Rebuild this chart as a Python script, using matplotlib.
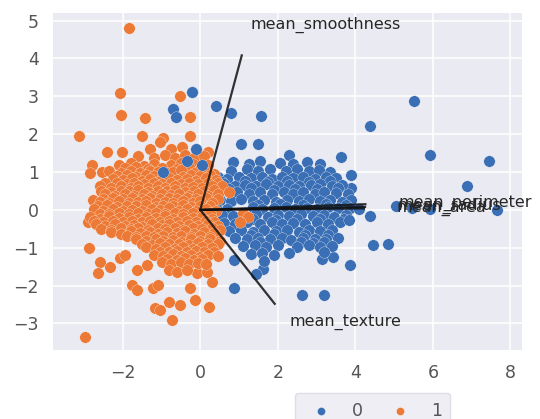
import matplotlib
matplotlib.use("Agg")
import matplotlib.pyplot as plt
import numpy as np

# ---------------- data ----------------
classes = ["0", "1"]
feature_names = ["mean_radius", "mean_texture", "mean_perimeter", "mean_area", "mean_smoothness"]
loading_x = [4.25, 1.92, 4.26, 4.22, 1.07]
loading_y = [0.08, -2.48, 0.15, 0.04, 4.08]

xticks = [-2, 0, 2, 4, 6, 8]
yticks = [-3, -2, -1, 0, 1, 2, 3, 4, 5]

# class 0 (blue)
malignant_pts = [
    (-0.22, 3.12), (-0.70, 2.67), (-0.62, 2.45), (0.40, 2.74), (0.78, 2.55), (1.57, 2.48),
    (1.05, 1.73), (1.50, 1.73), (5.52, 2.87), (4.39, 2.22), (5.92, 1.45), (7.44, 1.30),
    (3.63, 1.41), (6.88, 0.63), (7.65, -0.01), (5.92, 0.03), (5.05, 0.10), (5.45, 0.05),
    (4.39, -0.15), (4.45, -0.94), (4.84, -0.89), (3.87, -1.46), (3.15, -1.30), (3.43, -1.25),
    (2.62, -2.26), (3.18, -2.26), (0.88, -2.07), (1.62, -1.55), (1.45, -1.68), (3.90, 0.93),
    (3.90, 0.57), (2.28, 1.46), (-0.95, 1.01), (-0.34, 1.28), (0.05, 1.18), (-0.10, 1.60),
    (0.86, -1.32),
    (0.85, 1.27), (1.25, 1.22), (1.55, 1.28), (2.05, 1.24), (2.40, 1.20), (2.75, 1.26), (3.10, 1.21),
    (0.80, 1.03), (1.20, 1.08), (1.50, 1.02), (1.80, 1.07), (2.20, 1.04), (2.50, 1.09), (2.80, 1.02),
    (3.05, 1.06), (3.35, 1.01),
    (0.45, 0.87), (0.70, 0.82), (1.00, 0.88), (1.30, 0.83), (1.60, 0.86), (1.85, 0.81), (2.10, 0.88),
    (2.40, 0.84), (2.65, 0.87), (2.95, 0.82), (3.25, 0.86), (3.50, 0.83),
    (0.55, 0.74), (1.15, 0.77), (1.75, 0.73), (2.25, 0.76), (2.80, 0.74), (3.35, 0.77),
    (0.30, 0.66), (0.60, 0.68), (0.90, 0.63), (1.15, 0.67), (1.45, 0.62), (1.70, 0.68), (2.00, 0.64),
    (2.30, 0.67), (2.55, 0.62), (2.85, 0.66), (3.10, 0.69), (3.40, 0.63), (3.65, 0.67),
    (0.75, 0.54), (1.30, 0.57), (1.90, 0.53), (2.45, 0.56), (3.00, 0.54), (3.55, 0.57),
    (0.35, 0.44), (0.95, 0.47), (1.25, 0.42), (1.55, 0.46), (1.85, 0.43), (2.15, 0.48), (2.40, 0.43),
    (2.65, 0.46), (2.95, 0.42), (3.20, 0.47), (3.50, 0.44), (3.80, 0.41),
    (0.50, 0.26), (0.80, 0.23), (1.05, 0.28), (1.35, 0.24), (1.65, 0.27), (1.95, 0.22), (2.25, 0.26),
    (2.55, 0.23), (2.80, 0.28), (3.10, 0.24), (3.35, 0.27), (3.65, 0.22), (3.90, 0.25),
    (1.50, 0.14), (2.05, 0.16), (2.65, 0.13), (3.25, 0.15), (3.75, 0.14),
    (0.40, 0.06), (0.70, 0.03), (1.35, 0.07), (1.60, 0.02), (1.90, 0.05), (2.20, 0.08), (2.45, 0.03),
    (2.75, 0.06), (3.00, 0.02), (3.30, 0.07), (3.55, 0.04), (3.85, 0.06), (4.10, 0.03),
    (0.55, -0.13), (0.85, -0.17), (1.45, -0.12), (1.75, -0.18), (2.00, -0.14), (2.30, -0.17),
    (2.60, -0.12), (2.90, -0.16), (3.20, -0.13), (3.45, -0.18), (3.75, -0.14),
    (1.35, -0.24), (1.95, -0.26), (2.50, -0.23), (3.10, -0.25), (3.70, -0.24),
    (0.60, -0.34), (0.90, -0.38), (1.20, -0.33), (1.55, -0.37), (1.85, -0.32), (2.10, -0.38),
    (2.40, -0.34), (2.70, -0.37), (3.00, -0.33), (3.30, -0.36), (3.60, -0.32), (3.83, -0.27),
    (0.75, -0.57), (1.05, -0.53), (1.35, -0.58), (1.65, -0.54), (1.95, -0.57), (2.25, -0.52),
    (2.55, -0.58), (2.80, -0.54), (3.10, -0.57), (3.40, -0.53),
    (1.30, -0.66), (1.90, -0.64), (2.70, -0.67), (3.30, -0.65),
    (0.90, -0.74), (1.20, -0.78), (1.50, -0.73), (1.80, -0.77), (2.10, -0.74), (2.35, -0.79),
    (2.65, -0.73), (2.95, -0.76), (3.25, -0.78), (3.55, -0.74),
    (1.55, -0.86), (2.60, -0.85), (2.90, -0.87), (3.20, -0.86),
    (1.10, -0.96), (1.40, -0.93), (1.70, -0.98), (2.00, -0.94), (2.50, -0.97), (2.80, -0.93),
    (3.10, -0.98), (3.40, -0.95),
    (1.30, -1.16), (1.60, -1.13), (1.90, -1.18), (2.30, -1.14), (3.20, -1.12),
    (1.65, -1.36),
]

# class 1 (orange)
benign_pts = [
    (-1.85, 4.81), (-2.08, 3.09), (-0.53, 3.02), (-2.04, 2.51), (-1.42, 2.43), (-0.26, 2.45),
    (-3.13, 1.96), (-1.51, 1.96), (-0.95, 1.90), (-0.26, 1.94), (-1.03, 1.80), (-0.47, 1.67),
    (-2.41, 1.54), (-2.02, 1.54), (-1.30, 1.62), (-0.75, 1.60), (0.20, 1.52),
    (-2.80, 1.19), (-2.84, 0.97), (-2.54, 1.01), (-2.50, 0.66), (-2.76, 0.26), (-2.89, -0.31),
    (-2.86, -1.00), (-2.58, -1.37), (-2.33, -1.50), (-2.63, -1.67), (-2.07, -1.28), (-1.94, -1.19),
    (-1.64, -1.59), (-1.38, -1.46), (-1.76, -1.98), (-1.64, -2.12), (-1.21, -2.07), (-1.08, -1.98),
    (-0.82, -2.43), (-1.16, -2.60), (-1.03, -2.65), (-0.52, -2.51), (-0.73, -2.91), (-0.13, -2.38),
    (0.22, -2.56), (-0.26, -2.07), (-0.09, -1.67), (0.30, -1.90), (0.17, -1.63), (-2.97, -3.35),
    (-1.60, 1.42), (-1.20, 1.36), (-0.90, 1.44), (-0.65, 1.38), (-0.40, 1.45), (-0.15, 1.37), (0.10, 1.42),
    (-2.10, 1.18), (-1.80, 1.24), (-1.45, 1.17), (-1.20, 1.22), (-0.75, 1.19), (-0.50, 1.25),
    (-0.20, 1.20), (0.20, 1.18),
    (-1.95, 1.10), (-1.65, 1.12), (-1.35, 1.08), (-1.00, 1.11), (-0.60, 1.09), (-0.30, 1.12), (0.00, 1.08),
    (-2.35, 1.02), (-2.05, 0.97), (-1.80, 1.04), (-1.55, 0.98), (-1.30, 1.03), (-1.10, 1.00),
    (-0.85, 0.98), (-0.70, 0.99), (-0.50, 1.05), (-0.15, 0.97), (0.10, 1.02), (0.35, 0.96),
    (-2.15, 0.90), (-1.90, 0.92), (-1.65, 0.88), (-1.40, 0.91), (-1.20, 0.89), (-0.95, 0.92),
    (-0.45, 0.88), (-0.25, 0.91), (0.00, 0.89), (0.25, 0.92),
    (-2.25, 0.82), (-2.00, 0.78), (-1.75, 0.83), (-1.50, 0.77), (-1.30, 0.81), (-1.05, 0.76),
    (-0.80, 0.84), (-0.60, 0.79), (-0.35, 0.82), (-0.10, 0.77), (0.15, 0.83), (0.40, 0.78),
    (-2.45, 0.70), (-2.15, 0.72), (-1.90, 0.68), (-1.70, 0.71), (-1.45, 0.69), (-1.20, 0.72),
    (-1.00, 0.68), (-0.75, 0.71), (-0.50, 0.69), (-0.30, 0.72), (-0.05, 0.68), (0.20, 0.71), (0.45, 0.70),
    (-2.60, 0.62), (-2.30, 0.57), (-2.05, 0.63), (-1.80, 0.58), (-1.60, 0.64), (-1.35, 0.59),
    (-1.10, 0.62), (-0.90, 0.57), (-0.65, 0.63), (-0.40, 0.58), (-0.20, 0.61), (0.05, 0.57),
    (0.30, 0.63), (0.57, 0.64),
    (-2.55, 0.50), (-2.30, 0.48), (-2.05, 0.51), (-1.85, 0.49), (-1.60, 0.52), (-1.35, 0.48),
    (-1.10, 0.51), (-0.85, 0.49), (-0.65, 0.52), (-0.40, 0.48), (-0.15, 0.51), (0.10, 0.49), (0.35, 0.52),
    (-2.45, 0.42), (-2.20, 0.37), (-1.95, 0.43), (-1.70, 0.38), (-1.45, 0.41), (-1.25, 0.36),
    (-1.00, 0.43), (-0.75, 0.39), (-0.55, 0.42), (-0.30, 0.37), (-0.05, 0.41), (0.20, 0.38),
    (0.45, 0.43), (0.74, 0.46),
    (-2.50, 0.30), (-2.25, 0.32), (-2.00, 0.28), (-1.75, 0.31), (-1.50, 0.29), (-1.30, 0.32),
    (-1.05, 0.28), (-0.80, 0.31), (-0.60, 0.29), (-0.35, 0.32), (-0.10, 0.28), (0.15, 0.31), (0.45, 0.29),
    (-2.60, 0.22), (-2.35, 0.18), (-2.10, 0.23), (-1.85, 0.17), (-1.60, 0.21), (-1.40, 0.24),
    (-1.15, 0.18), (-0.90, 0.22), (-0.70, 0.17), (-0.45, 0.23), (-0.20, 0.19), (0.00, 0.24), (0.30, 0.18),
    (-2.65, 0.10), (-2.40, 0.12), (-2.15, 0.08), (-1.90, 0.11), (-1.65, 0.09), (-1.40, 0.12),
    (-1.15, 0.08), (-0.95, 0.11), (-0.70, 0.09), (-0.45, 0.12), (-0.25, 0.08), (0.00, 0.11), (0.25, 0.09),
    (-2.75, 0.02), (-2.50, -0.03), (-2.25, 0.03), (-2.00, -0.02), (-1.75, 0.01), (-1.50, -0.04),
    (-1.25, 0.03), (-1.05, -0.01), (-0.80, 0.04), (-0.55, -0.03), (-0.35, 0.02), (-0.10, -0.02),
    (0.15, 0.03), (0.40, -0.04), (1.09, -0.07),
    (-2.60, -0.10), (-2.35, -0.12), (-2.10, -0.08), (-1.85, -0.11), (-1.60, -0.09), (-1.35, -0.12),
    (-1.15, -0.08), (-0.90, -0.11), (-0.65, -0.09), (-0.45, -0.12), (-0.20, -0.08), (0.05, -0.11), (0.25, -0.09),
    (-2.85, -0.18), (-2.60, -0.23), (-2.35, -0.17), (-2.10, -0.22), (-1.85, -0.19), (-1.60, -0.24),
    (-1.40, -0.18), (-1.15, -0.21), (-0.90, -0.17), (-0.70, -0.23), (-0.45, -0.19), (-0.20, -0.22),
    (0.05, -0.18), (0.30, -0.24), (1.22, -0.20),
    (-2.75, -0.30), (-2.50, -0.32), (-2.25, -0.28), (-2.00, -0.31), (-1.75, -0.29), (-1.50, -0.32),
    (-1.30, -0.28), (-1.05, -0.31), (-0.80, -0.29), (-0.60, -0.32), (-0.35, -0.28), (-0.10, -0.31),
    (0.15, -0.29), (0.35, -0.32),
    (-2.70, -0.38), (-2.45, -0.43), (-2.20, -0.37), (-1.95, -0.42), (-1.70, -0.39), (-1.50, -0.44),
    (-1.25, -0.38), (-1.00, -0.41), (-0.80, -0.37), (-0.55, -0.43), (-0.30, -0.39), (-0.05, -0.42),
    (0.20, -0.38), (0.45, -0.43), (1.03, -0.31),
    (-2.55, -0.50), (-2.30, -0.52), (-2.05, -0.48), (-1.80, -0.51), (-1.60, -0.49), (-1.35, -0.52),
    (-1.10, -0.48), (-0.90, -0.51), (-0.65, -0.49), (-0.45, -0.52), (-0.20, -0.48), (0.05, -0.51),
    (0.30, -0.49), (0.50, -0.52),
    (-2.30, -0.58), (-2.05, -0.63), (-1.80, -0.57), (-1.55, -0.62), (-1.30, -0.59), (-1.10, -0.64),
    (-0.85, -0.58), (-0.60, -0.61), (-0.40, -0.57), (-0.15, -0.63), (0.10, -0.59), (0.35, -0.62),
    (-1.90, -0.70), (-1.65, -0.72), (-1.40, -0.68), (-1.20, -0.71), (-0.95, -0.69), (-0.70, -0.72),
    (-0.50, -0.68), (-0.25, -0.71), (0.00, -0.69), (0.25, -0.72),
    (-1.65, -0.78), (-1.40, -0.83), (-1.15, -0.77), (-0.95, -0.82), (-0.70, -0.79), (-0.50, -0.84),
    (-0.25, -0.78), (0.00, -0.81), (0.25, -0.77), (0.50, -0.83),
    (-1.50, -0.90), (-1.25, -0.92), (-1.05, -0.88), (-0.80, -0.91), (-0.55, -0.89), (-0.30, -0.92),
    (-0.05, -0.88), (0.20, -0.91), (0.45, -0.89),
    (-1.40, -0.98), (-1.15, -1.03), (-0.90, -0.97), (-0.65, -1.02), (-0.45, -0.99), (-0.20, -1.04),
    (0.05, -0.98), (0.30, -1.01),
    (-1.05, -1.10), (-0.80, -1.12), (-0.60, -1.08), (-0.35, -1.11), (-0.10, -1.09), (0.10, -1.12), (0.35, -1.10),
    (-1.20, -1.18), (-0.95, -1.23), (-0.70, -1.17), (-0.50, -1.22), (-0.25, -1.19), (0.00, -1.24),
    (0.20, -1.18), (0.45, -1.21),
    (-0.85, -1.30), (-0.60, -1.32), (-0.40, -1.28), (-0.15, -1.31), (0.05, -1.29),
    (-1.00, -1.38), (-0.75, -1.43), (-0.50, -1.37), (-0.30, -1.42), (-0.05, -1.39), (0.15, -1.44),
    (-0.80, -1.58), (-0.60, -1.63), (-0.35, -1.60),
]

# ---------------- style ----------------
BLUE = "#3a6fb5"
ORANGE = "#ec7a36"
BG = "#eaeaf2"
TXT = "#262626"

plt.rcParams["font.family"] = ["DejaVu Sans"]

fig = plt.figure(figsize=(5.40, 4.19), dpi=100)
ax = fig.add_axes([53 / 540, 1 - 350 / 419, (522 - 53) / 540, (350 - 13) / 419])
ax.set_facecolor(BG)
for s in ax.spines.values():
    s.set_visible(False)
ax.grid(True, color="white", linewidth=1.1)
ax.set_axisbelow(True)

mx = [p[0] for p in malignant_pts]
my = [p[1] for p in malignant_pts]
bx = [p[0] for p in benign_pts]
by = [p[1] for p in benign_pts]

kw = dict(s=68, edgecolors="white", linewidths=0.2)
h0 = ax.scatter(mx, my, color=BLUE, zorder=2, **kw)
h1 = ax.scatter(bx, by, color=ORANGE, zorder=3, **kw)
# blue points that sit on top inside the orange cloud
top = [(x, y) for x, y in malignant_pts if x < 0.1]
ax.scatter([p[0] for p in top], [p[1] for p in top], color=BLUE, zorder=4, **kw)

for name, lx, ly in zip(feature_names, loading_x, loading_y):
    ax.plot([0, lx], [0, ly], color="#111111", lw=1.6, alpha=0.85, zorder=5)
    ax.text(lx * 1.2, ly * 1.2, name, ha="left", va="center", fontsize=11.5,
            color=TXT, zorder=6, clip_on=False)

ax.set_xlim(-3.8, 8.3)
ax.set_ylim(-3.7, 5.2)
ax.set_xticks(xticks)
ax.set_yticks(yticks)
ax.tick_params(axis="both", length=0, labelsize=12.5, labelcolor="#555555", pad=10)

leg = fig.legend([h0, h1], classes, ncol=2, loc="upper center",
                 bbox_to_anchor=(0.69, 1 - 393 / 419), fontsize=12.5,
                 frameon=True, facecolor=BG, edgecolor="#d8d8e0",
                 handletextpad=0.8, columnspacing=1.1, borderpad=0.5,
                 borderaxespad=0.0, markerscale=0.7)
for t in leg.get_texts():
    t.set_color("#555555")

fig.savefig("out.png", dpi=100)
